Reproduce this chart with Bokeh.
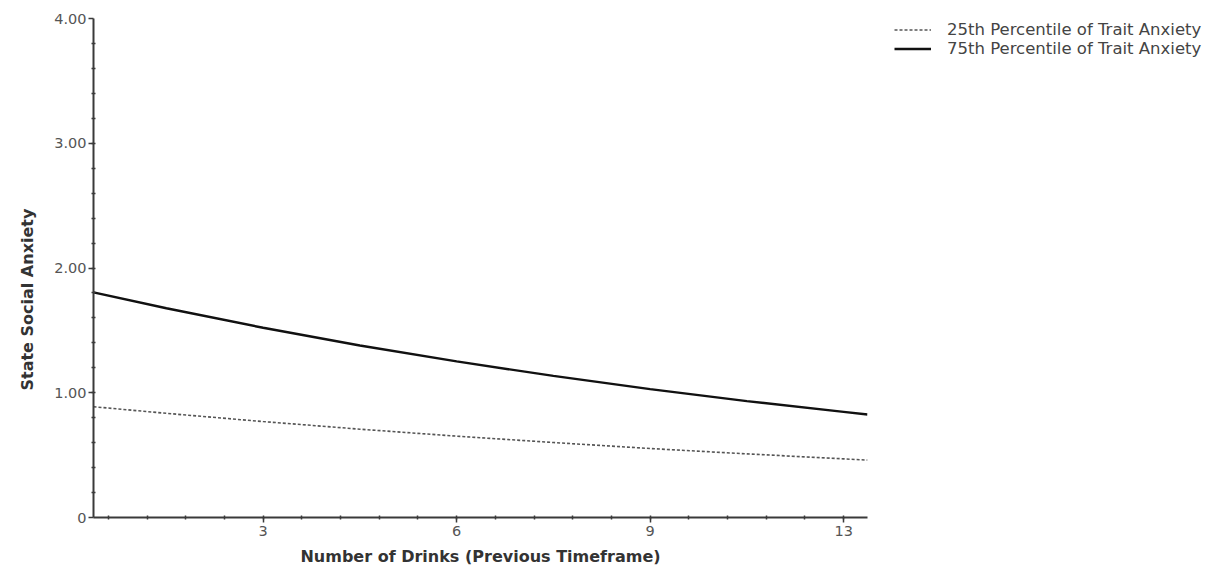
from bokeh.plotting import figure
from bokeh.models import Range1d, FixedTicker, Legend, LegendItem, Title
from bokeh.embed import file_html
from bokeh.resources import INLINE

# ---- data ----
drinks = [0.37, 1.5, 3.0, 4.5, 6.0, 7.5, 9.0, 10.5, 12.0, 12.37]
low_trait = [0.888, 0.835, 0.769, 0.708, 0.652, 0.601, 0.553, 0.510, 0.470, 0.460]
high_trait = [1.805, 1.677, 1.521, 1.379, 1.251, 1.135, 1.029, 0.933, 0.847, 0.826]

series_names = ["25th Percentile of Trait Anxiety", "75th Percentile of Trait Anxiety"]

x_ticks = [3, 6, 9, 12]
x_tick_labels = ["3", "6", "9", "13"]
x_minor = [round(0.6 * i, 2) for i in range(1, 21)]
y_ticks = [0, 1, 2, 3, 4]
y_tick_labels = ["0", "1.00", "2.00", "3.00", "4.00"]
y_minor = [round(0.2 * i, 2) for i in range(1, 20)]

FONT = "DejaVu Sans"
AXIS_COL = "#3a3a3a"

p = figure(frame_width=774, frame_height=499,
           x_range=Range1d(0.37, 12.37), y_range=Range1d(0, 4.0),
           output_backend="svg", toolbar_location=None,
           min_border_left=93, min_border_top=18, min_border_bottom=46,
           min_border_right=338)
p.outline_line_color = None
p.grid.grid_line_color = None
p.background_fill_color = "white"

r_low = p.line(drinks, low_trait, line_color="#555555", line_width=1.6, line_dash="3 2")
r_high = p.line(drinks, high_trait, line_color="#111111", line_width=2.4)

# axes
p.xaxis.ticker = FixedTicker(ticks=x_ticks, minor_ticks=x_minor)
p.xaxis.major_label_overrides = {t: l for t, l in zip(x_ticks, x_tick_labels)}
p.yaxis.ticker = FixedTicker(ticks=y_ticks, minor_ticks=y_minor)
p.yaxis.major_label_overrides = {t: l for t, l in zip(y_ticks, y_tick_labels)}

p.xaxis.axis_label = "Number of Drinks (Previous Timeframe)"

for ax in (p.xaxis, p.yaxis):
    ax.axis_line_color = AXIS_COL
    ax.axis_line_width = 2
    ax.major_tick_line_color = AXIS_COL
    ax.major_tick_line_width = 1.5
    ax.major_tick_in = 0
    ax.major_tick_out = 5
    ax.minor_tick_line_color = AXIS_COL
    ax.minor_tick_line_width = 1.5
    ax.minor_tick_in = 2
    ax.minor_tick_out = 2
    ax.major_label_text_font = FONT
    ax.major_label_text_font_size = "14.5px"
    ax.major_label_text_color = "#555555"
    ax.axis_label_text_font = FONT
    ax.axis_label_text_font_size = "16px"
    ax.axis_label_text_font_style = "bold"
    ax.axis_label_text_color = "#333333"

p.xaxis.major_label_standoff = 3
p.xaxis.axis_label_standoff = 8
p.yaxis.major_label_standoff = 2

ytitle = Title(text="State Social Anxiety", align="left", offset=127,
               standoff=30, text_font=FONT, text_font_size="16px",
               text_font_style="bold", text_color="#333333")
p.add_layout(ytitle, "left")

legend = Legend(items=[LegendItem(label=series_names[0], renderers=[r_low]),
                       LegendItem(label=series_names[1], renderers=[r_high])],
                location=(27, 459), padding=0, margin=0, spacing=0,
                border_line_color=None, background_fill_alpha=0,
                glyph_width=37, glyph_height=17, label_height=17,
                label_standoff=16, label_text_font=FONT,
                label_text_font_size="16.5px", label_text_color="#444444")
p.add_layout(legend, "right")

open("out.html", "w").write(file_html(p, INLINE))
